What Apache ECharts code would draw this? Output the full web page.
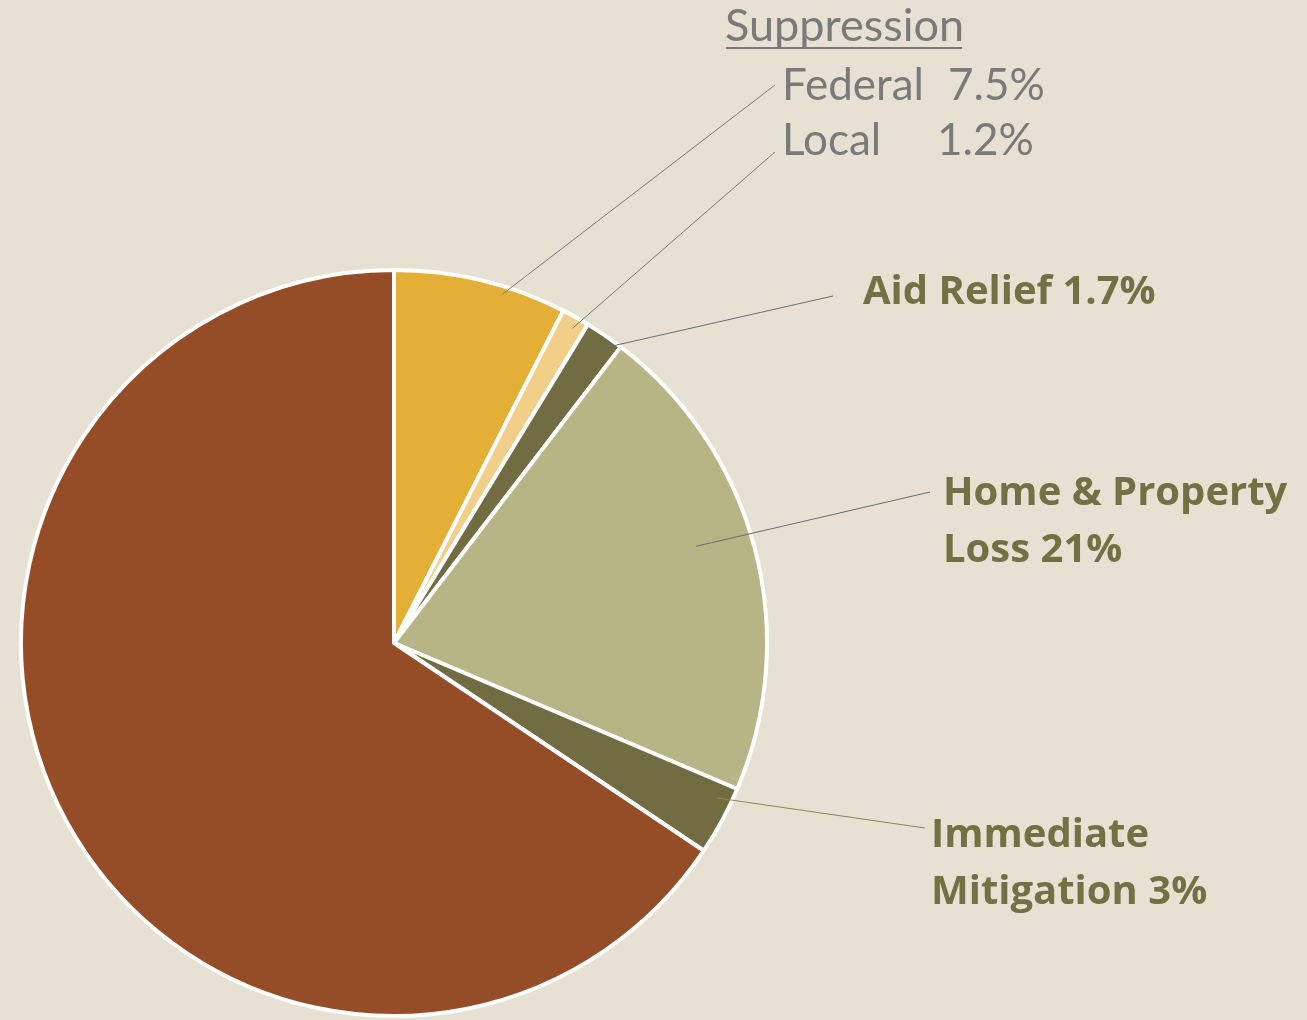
<!DOCTYPE html>
<html>
<head>
<meta charset="utf-8">
<script src="https://cdn.jsdelivr.net/npm/echarts@6/dist/echarts.min.js"></script>
<style>
  html, body { margin: 0; padding: 0; background: #e7e1d4; }
  #chart { width: 1307px; height: 1020px; }
</style>
</head>
<body>
<div id="chart"></div>
<script>
// wildfire cost shares, clockwise from 12 o'clock
const categories = ['Federal', 'Local', 'Aid Relief', 'Home & Property Loss', 'Immediate Mitigation', 'Other']
const shares = [7.5, 1.2, 1.7, 21, 3, 65.6]
const labelTexts = [
  '{n1|Federal}{v|7.5%}',
  '{n2|Local}{v|1.2%}',
  '{b|Aid Relief 1.7%}',
  '{b|Home & Property}\n{b|Loss 21%}',
  '{b|Immediate}\n{b|Mitigation 3%}',
  ''
]
const groupTitle = 'Suppression'

const colors = ['#e4af36', '#f1cf88', '#716c41', '#b7b485', '#716c41', '#954d27']
const OLIVE = '#737044'
const GRAY = '#7a7a7a'
const FONT = 'Lato, "Open Sans", sans-serif'
const BOLD_FONT = '"Open Sans", Lato, sans-serif'

// label placement (style only)
const CENTER = [394, 643]
const R = 373
const labelPos = [[782, 86], [782, 141], [863, 293], [943, 522], [931, 864]]
const lineEnd = [[775, 85], [775, 152], [833, 296], [930, 492], [925, 828]]
const anchorR = [0.98, 0.97, 0.97, 0.85, 0.96]
const anchorShift = [3.8, 0.4, 1, -3, -2.8]
const lineColor = [GRAY, GRAY, '#6d6d72', '#6d6d72', '#8a8652']

const total = shares.reduce((s, v) => s + v, 0)
let acc = 0
const midAngles = shares.map(v => {
  const a = (acc + v / 2) / total * 360
  acc += v
  return a
})

const chart = echarts.init(document.getElementById('chart'), null, { renderer: 'canvas' })

const base = {
  type: 'pie',
  center: CENTER,
  radius: R,
  startAngle: 90,
  clockwise: true,
  avoidLabelOverlap: false,
  silent: true
}

chart.setOption({
  backgroundColor: '#e7e1d4',
  animation: false,
  graphic: [
    {
      type: 'text', left: 725, top: 4,
      style: { text: groupTitle, fill: GRAY, font: '45px ' + FONT }
    },
    {
      type: 'line',
      shape: { x1: 726, y1: 48, x2: 962, y2: 48 },
      style: { stroke: GRAY, lineWidth: 2 }
    }
  ],
  series: [
    // the sectors
    {
      ...base,
      z: 2,
      itemStyle: { borderColor: '#ffffff', borderWidth: 4 },
      label: { show: false },
      labelLine: { show: false },
      data: categories.map((name, i) => ({ name, value: shares[i], itemStyle: { color: colors[i] } }))
    },
    // same pie, transparent, carrying the labels so their leader lines sit above the sectors
    {
      ...base,
      z: 3,
      itemStyle: { color: 'rgba(0,0,0,0)', borderWidth: 0 },
      label: {
        show: true,
        position: 'outside',
        alignTo: 'none',
        fontFamily: FONT,
        rich: {
          n1: { fontFamily: FONT, fontSize: 44, color: GRAY, width: 166 },
          n2: { fontFamily: FONT, fontSize: 44, color: GRAY, width: 155 },
          v: { fontFamily: FONT, fontSize: 44, color: GRAY },
          b: { fontFamily: BOLD_FONT, fontSize: 40, fontWeight: 'bold', color: OLIVE, lineHeight: 57 }
        }
      },
      labelLine: { show: true, showAbove: true, length: 10, length2: 10, lineStyle: { width: 1 } },
      labelLayout: function (params) {
        const i = params.dataIndex
        if (i >= labelPos.length) return {}
        const a = (midAngles[i] + anchorShift[i]) * Math.PI / 180
        const r = R * anchorR[i]
        const start = [CENTER[0] + r * Math.sin(a), CENTER[1] - r * Math.cos(a)]
        const rect = params.labelRect
        return {
          dx: labelPos[i][0] - rect.x,
          dy: labelPos[i][1] - (rect.y + rect.height / 2),
          labelLinePoints: [start, lineEnd[i], lineEnd[i]]
        }
      },
      data: categories.map((name, i) => ({
        name,
        value: shares[i],
        label: { show: labelTexts[i] !== '', formatter: labelTexts[i] },
        labelLine: { show: labelTexts[i] !== '', showAbove: true, lineStyle: { color: lineColor[i] || GRAY, width: 1 } }
      }))
    }
  ]
})
</script>
</body>
</html>
